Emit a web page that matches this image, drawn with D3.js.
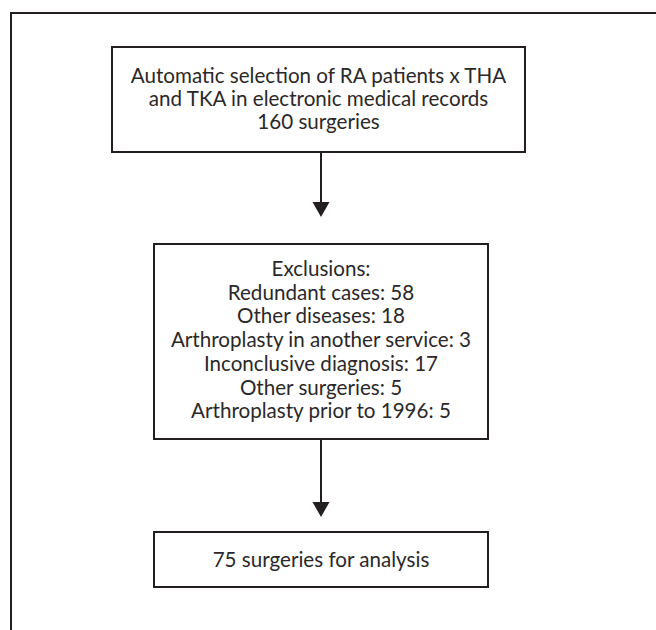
<!DOCTYPE html>
<html>
<head>
<meta charset="utf-8">
<script src="https://cdn.jsdelivr.net/npm/d3@7/dist/d3.min.js"></script>
<style>
  html, body { margin: 0; padding: 0; background: #fff; }
  svg { display: block; }
</style>
</head>
<body>
<div id="chart"></div>
<script>
// flow chart content
const selectionLines = [
  'Automatic selection of RA patients x THA',
  'and TKA in electronic medical records',
  '160 surgeries',
];
const exclusionTitle = 'Exclusions:';
const exclusionLabels = [
  'Redundant cases',
  'Other diseases',
  'Arthroplasty in another service',
  'Inconclusive diagnosis',
  'Other surgeries',
  'Arthroplasty prior to 1996',
];
const exclusionCounts = [58, 18, 3, 17, 5, 5];
const finalLines = ['75 surgeries for analysis'];

const width = 656;
const height = 630;
const ink = '#231f20';
const cx = 321;

const svg = d3
  .select('#chart')
  .append('svg')
  .attr('width', width)
  .attr('height', height)
  .attr('viewBox', `0 0 ${width} ${height}`);

// outer frame, runs off the right and bottom edges
svg
  .append('rect')
  .attr('x', 11)
  .attr('y', 13)
  .attr('width', 700)
  .attr('height', 700)
  .attr('fill', 'none')
  .attr('stroke', ink)
  .attr('stroke-width', 2);

const boxes = [
  { x0: 112, x1: 525, y0: 47, y1: 152, first: 83, step: 23, lines: selectionLines },
  {
    x0: 154, x1: 488, y0: 244, y1: 439, first: 276, step: 23.7,
    lines: [exclusionTitle].concat(
      exclusionLabels.map((d, i) => `${d}: ${exclusionCounts[i]}`)
    ),
  },
  { x0: 154, x1: 488, y0: 532, y1: 587, first: 567, step: 23, lines: finalLines },
];

boxes.forEach((b) => {
  const g = svg.append('g');
  g.append('rect')
    .attr('x', b.x0)
    .attr('y', b.y0)
    .attr('width', b.x1 - b.x0)
    .attr('height', b.y1 - b.y0)
    .attr('fill', '#fff')
    .attr('stroke', ink)
    .attr('stroke-width', 2);

  const y = d3
    .scaleLinear()
    .domain([0, 1])
    .range([b.first, b.first + b.step]);

  g.selectAll('text')
    .data(b.lines)
    .join('text')
    .attr('x', (b.x0 + b.x1) / 2)
    .attr('y', (d, i) => y(i))
    .attr('text-anchor', 'middle')
    .attr('font-family', 'Lato, "Open Sans", sans-serif')
    .attr('font-size', 20.6)
    .attr('fill', '#2b2829')
    .text((d) => d);
});

// arrows between boxes
const arrows = [
  { y0: 152, y1: 217 },
  { y0: 439, y1: 517 },
];

arrows.forEach((a) => {
  svg
    .append('line')
    .attr('x1', cx)
    .attr('x2', cx)
    .attr('y1', a.y0)
    .attr('y2', a.y1 - 14)
    .attr('stroke', ink)
    .attr('stroke-width', 2);

  svg
    .append('path')
    .attr('d', d3.line()([[cx - 8.5, a.y1 - 15], [cx + 8.5, a.y1 - 15], [cx, a.y1]]) + 'Z')
    .attr('fill', ink);
});
</script>
</body>
</html>
